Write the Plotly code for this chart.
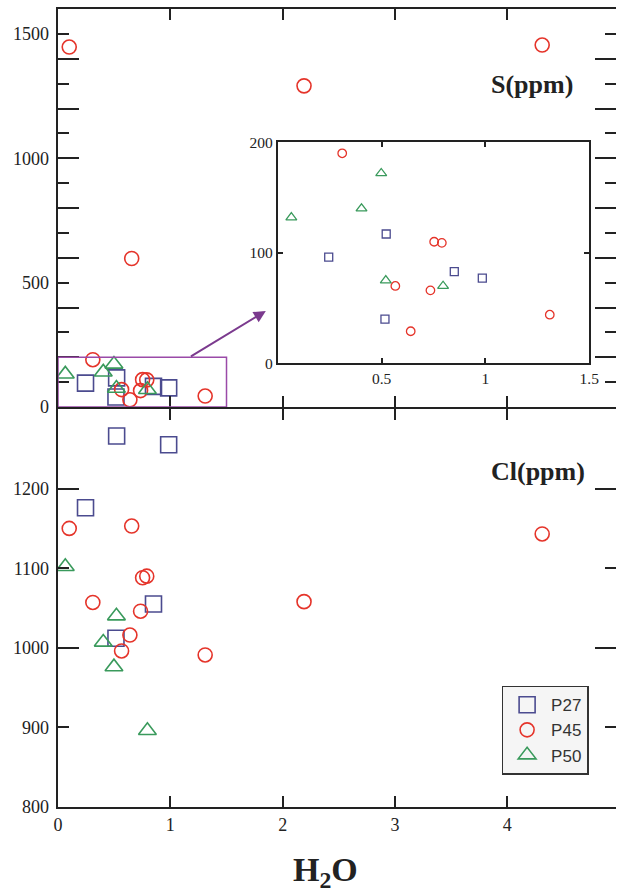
import plotly.graph_objects as go

# ---------------- data ----------------
H2O_P27 = [0.245, 0.522, 0.516, 0.85, 0.985]
S_P27 = [96, 117, 40, 83, 77]
CL_P27 = [1176, 1266, 1012, 1055, 1255]

H2O_P45 = [0.10, 0.31, 0.566, 0.64, 0.656, 0.735, 0.753, 0.79, 1.31, 2.19, 4.31]
S_P45 = [1447, 190, 70, 29, 597, 66, 110, 109, 44, 1291, 1455]
CL_P45 = [1150, 1057, 996, 1016, 1153, 1046, 1088, 1090, 991, 1058, 1143]

H2O_P50 = [0.065, 0.403, 0.498, 0.52, 0.796]
S_P50 = [132, 140, 172, 75, 70]
CL_P50 = [1102, 1007, 976, 1040, 896]

X_RANGE = [0, 4.967]
S_RANGE = [0, 1600]
CL_RANGE = [800, 1300]
INSET_X = [0, 1.5]
INSET_Y = [0, 200]

X_TICKS = [0, 1, 2, 3, 4, 5]
S_MAJOR = [0, 200, 400, 600, 800, 1000, 1200, 1400, 1600]
S_MINOR = [100, 300, 500, 700, 900, 1100, 1300, 1500]
S_LABELS = [0, 500, 1000, 1500]
CL_MAJOR = [800, 1000, 1200]
CL_MINOR = [900, 1100, 1300]
CL_LABELS = [800, 900, 1000, 1100, 1200]
INSET_XT = [0.5, 1, 1.5]
INSET_YT = [0, 100, 200]

ARROW_TAIL = (1.17, 200)
ARROW_HEAD = (1.85, 386)

# ---------------- styling ----------------
AX = "#222222"
SERIF = "Liberation Serif"
tickfont = dict(family=SERIF, size=18, color=AX)

series = [
    ("P27", "square-open", "#4b4b8f", H2O_P27, S_P27, CL_P27, 16, 8),
    ("P45", "circle-open", "#e5342a", H2O_P45, S_P45, CL_P45, 14, 8.5),
    ("P50", "triangle-up-open", "#3a9a5c", H2O_P50, S_P50, CL_P50, 15.5, 9.5),
]

fig = go.Figure()
for name, sym, col, x, s, cl, sz, isz in series:
    fig.add_trace(go.Scatter(
        x=x, y=cl, xaxis="x", yaxis="y", mode="markers", name=name,
        marker=dict(symbol=sym, size=sz, color=col, line=dict(width=1.6, color=col)),
    ))
for name, sym, col, x, s, cl, sz, isz in series:
    fig.add_trace(go.Scatter(
        x=x, y=s, xaxis="x2", yaxis="y2", mode="markers", name=name, showlegend=False,
        marker=dict(symbol=sym, size=sz, color=col, line=dict(width=1.6, color=col)),
    ))
    fig.add_trace(go.Scatter(
        x=x, y=s, xaxis="x3", yaxis="y7", mode="markers", name=name, showlegend=False,
        marker=dict(symbol=sym, size=isz, color=col, line=dict(width=1.3, color=col)),
    ))

# empty helper traces so the overlay axes (labels / right-side ticks) get drawn
for xa, ya in [("x", "y3"), ("x", "y4"), ("x2", "y5"), ("x2", "y6")]:
    fig.add_trace(go.Scatter(x=[None], y=[None], xaxis=xa, yaxis=ya, mode="markers",
                             showlegend=False, hoverinfo="skip"))

xbase = dict(range=X_RANGE, autorange=False, showline=True, linewidth=2, linecolor=AX,
             mirror="ticks", ticks="inside", ticklen=11, tickwidth=2, tickcolor=AX,
             tickmode="array", tickvals=X_TICKS, tickfont=tickfont,
             showgrid=False, zeroline=False)


def yticks(rng, major, minor, line=True, side="left"):
    return dict(range=rng, autorange=False, showline=line, linewidth=2, linecolor=AX,
                ticks="inside", ticklen=21, tickwidth=2, tickcolor=AX,
                tickmode="array", tickvals=major, showticklabels=False,
                minor=dict(tickmode="array", tickvals=minor, ticks="inside",
                           ticklen=11, tickwidth=2, tickcolor=AX),
                showgrid=False, zeroline=False, side=side)


def ylabels(rng, labels):
    return dict(range=rng, autorange=False, showline=False, ticks="",
                tickmode="array", tickvals=labels, tickfont=tickfont,
                ticklabelstandoff=8, showgrid=False, zeroline=False, side="left")


inset_font = dict(family=SERIF, size=15.5, color=AX)

PLOT_H = 894 - 9 - 87
HALF = 1.0 / PLOT_H  # one pixel in paper units, so both boundary lines coincide

fig.update_layout(
    width=626, height=894,
    margin=dict(l=58, r=0, t=9, b=87),
    paper_bgcolor="white", plot_bgcolor="white",
    xaxis=dict(xbase, domain=[0, 1], anchor="y"),
    xaxis2=dict(xbase, domain=[0, 1], anchor="y2", matches="x", showticklabels=False),
    yaxis=dict(yticks(CL_RANGE, CL_MAJOR, CL_MINOR), domain=[0, 0.5 - HALF], anchor="x"),
    yaxis3=dict(ylabels(CL_RANGE, CL_LABELS), overlaying="y", anchor="x"),
    yaxis4=dict(yticks(CL_RANGE, CL_MAJOR, CL_MINOR, line=False, side="right"),
                overlaying="y", anchor="x"),
    yaxis2=dict(yticks(S_RANGE, S_MAJOR, S_MINOR), domain=[0.5 + HALF, 1], anchor="x2"),
    yaxis5=dict(ylabels(S_RANGE, S_LABELS), overlaying="y2", anchor="x2"),
    yaxis6=dict(yticks(S_RANGE, S_MAJOR, S_MINOR, line=False, side="right"),
                overlaying="y2", anchor="x2"),
    xaxis3=dict(domain=[0.394, 0.952], anchor="y7", range=INSET_X, autorange=False,
                showline=True, linewidth=2, linecolor=AX, mirror="ticks",
                ticks="inside", ticklen=5, tickwidth=1.5, tickcolor=AX,
                tickmode="array", tickvals=INSET_XT, ticktext=["0.5", "1", "1.5"],
                tickfont=inset_font, showgrid=False, zeroline=False),
    yaxis7=dict(domain=[0.556, 0.833], anchor="x3", range=INSET_Y, autorange=False,
                showline=True, linewidth=2, linecolor=AX, mirror="ticks",
                ticks="inside", ticklen=5, tickwidth=1.5, tickcolor=AX,
                tickmode="array", tickvals=INSET_YT,
                tickfont=inset_font, showgrid=False, zeroline=False),
    legend=dict(x=0.795, y=0.152, xanchor="left", yanchor="top",
                bgcolor="#f5f5f5", bordercolor="#333333", borderwidth=1.5,
                itemwidth=38, tracegroupgap=0,
                font=dict(family="Liberation Sans", size=17, color="#333333")),
    showlegend=True,
)

fig.add_shape(type="rect", xref="x2", yref="y2",
              x0=INSET_X[0], x1=INSET_X[1], y0=INSET_Y[0], y1=INSET_Y[1],
              line=dict(color="#9a4aa8", width=1.5))

fig.add_annotation(xref="x2", yref="y2", axref="x2", ayref="y2",
                   x=ARROW_HEAD[0], y=ARROW_HEAD[1], ax=ARROW_TAIL[0], ay=ARROW_TAIL[1],
                   text="", showarrow=True, arrowhead=2, arrowsize=1.2, arrowwidth=2,
                   arrowcolor="#7b3a8e")

title_font = dict(family=SERIF, size=26, color=AX)
fig.add_annotation(xref="x2", yref="y2", x=4.22, y=1295, text="<b>S(ppm)</b>",
                   showarrow=False, font=title_font)
fig.add_annotation(xref="x", yref="y", x=4.27, y=1222, text="<b>Cl(ppm)</b>",
                   showarrow=False, font=title_font)
fig.add_annotation(xref="paper", yref="paper", x=0.48, y=-0.053, yanchor="top",
                   text="<b>H<sub>2</sub>O</b>", showarrow=False,
                   font=dict(family=SERIF, size=34, color=AX))

fig.write_html("out.html")
